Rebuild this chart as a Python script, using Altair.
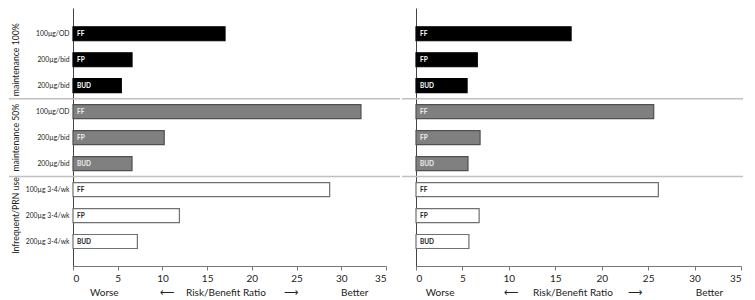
import altair as alt
import pandas as pd

# ---- data ----
doses = ["100µg/OD", "200µg/bid", "200µg/bid",
         "100µg/OD", "200µg/bid", "200µg/bid",
         "100µg 3-4/wk", "200µg 3-4/wk", "200µg 3-4/wk"]
drugs = ["FF", "FP", "BUD", "FF", "FP", "BUD", "FF", "FP", "BUD"]
group_of_row = ["g1", "g1", "g1", "g2", "g2", "g2", "g3", "g3", "g3"]
group_titles = ["maintenance 100%", "maintenance 50%", "Infrequent/PRN use"]
group_title_rows = [2, 5, 8]
left_values = [17.0, 6.6, 5.4, 32.2, 10.2, 6.6, 28.7, 11.9, 7.2]
right_values = [16.7, 6.6, 5.5, 25.6, 6.9, 5.6, 26.1, 6.8, 5.7]
separator_rows = [3.5, 6.5]
x_ticks = [0, 5, 10, 15, 20, 25, 30, 35]
axis_words = ["Worse", "⟵", "Risk/Benefit Ratio", "⟶", "Better"]
axis_words_left_pos = [3.5, 10.5, 17.1, 24.4, 31.5]
axis_words_right_pos = [2.6, 10.2, 16.9, 23.6, 31.6]

FONT = "Lato"
W1, W2, H = 313, 325, 258

rows = list(range(1, 10))
fill_domain = ["g1", "g2", "g3"]
fill_range = ["#000000", "#808080", "#ffffff"]
stroke_range = ["#000000", "#505050", "#707070"]
text_colors = {"g1": "#ffffff", "g2": "#eeeeee", "g3": "#222222"}

label_js = "[" + ",".join("'" + d + "'" for d in doses) + "]"


def panel(values, width, word_pos, left):
    df = pd.DataFrame({"row": rows, "value": values, "start": [0] * 9,
                       "drug": drugs, "grp": group_of_row,
                       "tcol": [text_colors[g] for g in group_of_row]})
    xscale = alt.Scale(domain=[0, 35], nice=False, zero=True)
    yscale = alt.Scale(domain=[0.2, 9.75], reverse=True, nice=False, zero=False)
    if left:
        yaxis = alt.Axis(values=rows, labelExpr=label_js + "[datum.value-1]",
                         ticks=False, grid=False, title=None, labelFont=FONT,
                         labelFontSize=6.8, labelColor="#222", labelPadding=4,
                         labelOverlap=False, labelFlush=False,
                         domainColor="#444", domainWidth=1)
    else:
        yaxis = alt.Axis(values=rows, labels=False, ticks=False, grid=False,
                         title=None, domainColor="#444", domainWidth=1)
    xaxis = alt.Axis(values=x_ticks, grid=False, title=None, labelFont=FONT,
                     labelFontSize=10, labelColor="#222", tickSize=4,
                     tickColor="#777", domainColor="#777", labelPadding=3)

    base = alt.Chart(df)
    bars = base.mark_bar(orient="horizontal", size=14, strokeWidth=1.2).encode(
        x=alt.X("start:Q", scale=xscale, axis=xaxis),
        x2="value:Q",
        y=alt.Y("row:Q", scale=yscale, axis=yaxis),
        fill=alt.Fill("grp:N", scale=alt.Scale(domain=fill_domain, range=fill_range), legend=None),
        stroke=alt.Stroke("grp:N", scale=alt.Scale(domain=fill_domain, range=stroke_range), legend=None),
    )
    labels = base.mark_text(align="left", baseline="middle", dx=4, fontSize=6.5,
                            font=FONT, fontWeight="bold").encode(
        x=alt.X("start:Q", scale=xscale, axis=xaxis),
        y=alt.Y("row:Q", scale=yscale, axis=yaxis),
        text="drug:N",
        color=alt.Color("tcol:N", scale=None, legend=None),
    )
    sep_df = pd.DataFrame({"sep": separator_rows})
    seps = alt.Chart(sep_df).mark_rule(color="#c0c0c0", strokeWidth=1.5).encode(
        y=alt.Y("sep:Q", scale=yscale, axis=yaxis),
        x=alt.value(-64 if left else -14),
        x2=alt.value(width + 14 if left else width + 2),
    )
    words_df = pd.DataFrame({"w": axis_words, "pos": word_pos})
    words = alt.Chart(words_df).mark_text(fontSize=10, font=FONT, color="#222",
                                          baseline="middle").encode(
        x=alt.X("pos:Q", scale=xscale, axis=xaxis),
        y=alt.value(H + 27),
        text="w:N",
    )
    layers = [bars, seps, labels, words]
    if left:
        gt_df = pd.DataFrame({"t": group_titles, "r": group_title_rows})
        gt = alt.Chart(gt_df).mark_text(angle=270, fontSize=8.7, font=FONT,
                                        color="#222", align="center",
                                        baseline="middle").encode(
            x=alt.value(-57),
            y=alt.Y("r:Q", scale=yscale, axis=yaxis),
            text="t:N",
        )
        layers.append(gt)
    return alt.layer(*layers).properties(width=width, height=H)


left_chart = panel(left_values, W1, axis_words_left_pos, True)
right_chart = panel(right_values, W2, axis_words_right_pos, False)

chart = alt.hconcat(left_chart, right_chart, spacing=0).resolve_scale(
    fill="shared", stroke="shared"
).configure_view(stroke=None).configure_axis(labelOverlap=False).properties(padding=0)

chart.save("out.html", embed_options={"renderer": "svg", "actions": False})
